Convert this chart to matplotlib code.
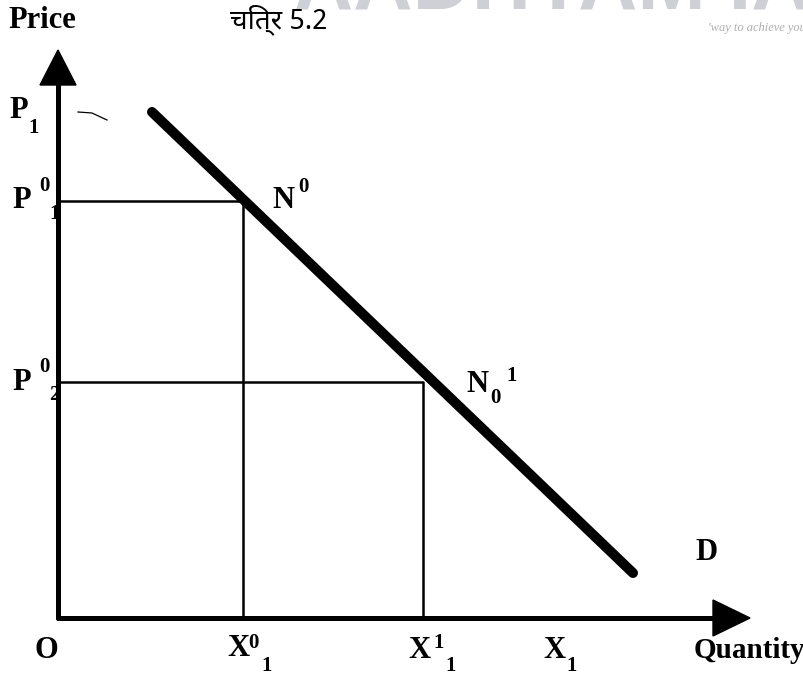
import numpy as np
import matplotlib.pyplot as plt

# diagram values (quantity, price) measured from the origin
demand_q = [94, 575]
demand_p = [506, 45]
x0_1 = 185          # X^0_1
x1_1 = 365          # X^1_1
x_1 = 485           # X_1 label position
p0_1 = 417          # P^0_1
p0_2 = 236          # P^0_2
p_1 = 508           # P_1 label position
q_max = 692
p_max = 568

serif = ['Liberation Serif', 'DejaVu Serif']
big = 22
small = 15

fig = plt.figure(figsize=(8.04, 6.75), dpi=100)
ax = fig.add_axes([0, 0, 1, 1])
ax.set_xlim(-58, 746)
ax.set_ylim(-57, 618)
ax.axis('off')

# watermark (only its lower edge is on the page)
ax.text(236, 609, 'AADHYAM IAS', color='#cfd0d5', fontsize=59, fontweight='bold',
        family='Liberation Sans', ha='left', va='baseline', clip_on=True, zorder=0)
ax.text(650, 590, "'way to achieve you", color='#b0b0b0', fontsize=9, style='italic',
        family=serif, ha='left', va='center', clip_on=True)

# axes with arrow heads
ax.plot([0, 0], [0, p_max - 35], color='k', lw=3.6, solid_capstyle='round')
ax.plot([0, q_max - 37], [0, 0], color='k', lw=3.6, solid_capstyle='round')
ax.fill([-18, 18, 0], [p_max - 35, p_max - 35, p_max], color='k')
ax.fill([q_max - 37, q_max - 37, q_max], [-18, 18, 0], color='k')

# demand line
ax.plot(demand_q, demand_p, color='k', lw=7.2, solid_capstyle='round')

# guide lines
ax.plot([0, x0_1, x0_1], [p0_1, p0_1, 0], color='k', lw=1.8)
ax.plot([0, x1_1, x1_1], [p0_2, p0_2, 0], color='k', lw=1.8)

# small scan stroke near P1
ax.plot([20, 34, 49], [506, 505, 498], color='k', lw=0.9)

kw = dict(family=serif, fontweight='bold', color='k', va='center', ha='left')

ax.text(-50, 598, 'Price', fontsize=big, **kw)
ax.text(172, 598, 'चित्र 5.2', fontsize=big - 2,
        family=['Noto Sans Devanagari', 'Lohit Devanagari', 'FreeSans', 'Liberation Serif'],
        fontweight='bold', color='k', va='center', ha='left')

# price labels
ax.text(-49, p_1, 'P', fontsize=big, **kw)
ax.text(-30, p_1 - 18, '1', fontsize=small, **kw)
for p, sub in [(p0_1, '1'), (p0_2, '2')]:
    ax.text(-46, p, 'P', fontsize=big, **kw)
    ax.text(-19, p + 15, '0', fontsize=small, **kw)
    ax.text(-9, p - 13, sub, fontsize=small, **kw)

# points on demand curve
ax.text(x0_1 + 29, p0_1 + 1, 'N', fontsize=big, **kw)
ax.text(x0_1 + 55, p0_1 + 14, '0', fontsize=small, **kw)
ax.text(x1_1 + 43, p0_2 - 2, 'N', fontsize=big, **kw)
ax.text(x1_1 + 67, p0_2 - 16, '0', fontsize=small, **kw)
ax.text(x1_1 + 83, p0_2 + 6, '1', fontsize=small, **kw)
ax.text(637, 65, 'D', fontsize=big, **kw)

# quantity labels
ax.text(-23, -32, 'O', fontsize=big, **kw)
ax.text(x0_1 - 16, -30, 'X', fontsize=big, **kw)
ax.text(x0_1 + 5, -25, '0', fontsize=small, **kw)
ax.text(x0_1 + 18, -48, '1', fontsize=small, **kw)
ax.text(x1_1 - 15, -32, 'X', fontsize=big, **kw)
ax.text(x1_1 + 10, -25, '1', fontsize=small, **kw)
ax.text(x1_1 + 22, -48, '1', fontsize=small, **kw)
ax.text(x_1, -32, 'X', fontsize=big, **kw)
ax.text(x_1 + 23, -48, '1', fontsize=small, **kw)
ax.text(636, -32, 'Quantity', fontsize=21, **kw)

fig.savefig('out.png', dpi=100)
